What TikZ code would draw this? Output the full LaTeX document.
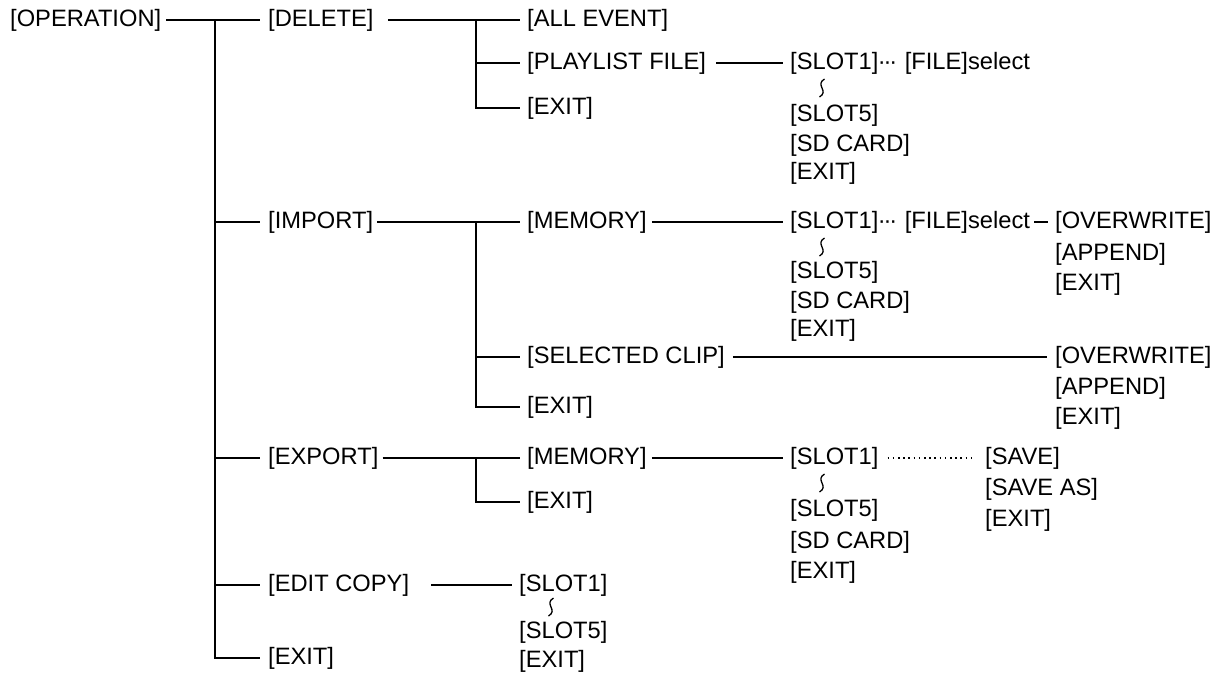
\documentclass[tikz,border=0pt]{standalone}
\usepackage{fontspec}
\setmainfont{Liberation Sans}
\newcommand{\slotdots}{\kern-0.5pt·\kern-2.2pt·\kern-2.2pt·\kern1pt\ }
\begin{document}
\begin{tikzpicture}[x=1pt,y=-1pt,
  lbl/.style={anchor=west, inner sep=0pt, font=\fontsize{23.7}{28}\selectfont},
  ln/.style={line width=2.4pt},
  dotln/.style={line width=1.8pt, dash pattern=on 1.6pt off 3.6pt},
  wav/.pic={\draw[line width=1.3pt] (2.5,-9) .. controls (-7.5,-3) and (7.5,3) .. (-2.5,9);}]
\useasboundingbox (0,0) rectangle (1222,673);

% level 0 / 1
\node[lbl] (op)  at (10,20)  {[OPERATION]};
\node[lbl] (del) at (268,20) {[DELETE]};
\node[lbl] (imp) at (268,222) {[IMPORT]};
\node[lbl] (exp) at (268,458) {[EXPORT]};
\node[lbl] (edc) at (268,585) {[EDIT COPY]};
\node[lbl] (ex0) at (268,658) {[EXIT]};
\coordinate (t0) at (215,20);

\draw[ln] ([xshift=5pt]op.east) -- ([xshift=-8pt]del.west);
\draw[ln] (t0) |- ([xshift=-8pt]ex0.west);
\draw[ln] (imp.west -| t0) -- ([xshift=-8pt]imp.west);
\draw[ln] (exp.west -| t0) -- ([xshift=-8pt]exp.west);
\draw[ln] (edc.west -| t0) -- ([xshift=-8pt]edc.west);

% DELETE subtree
\node[lbl] (ae)  at (527,20)  {[ALL EVENT]};
\node[lbl] (pl)  at (527,63)  {[PLAYLIST FILE]};
\node[lbl] (dex) at (527,108) {[EXIT]};
\coordinate (d0) at (476,20);
\draw[ln] ([xshift=14pt]del.east) -- ([xshift=-7pt]ae.west);
\draw[ln] (d0) |- ([xshift=-7pt]dex.west);
\draw[ln] (pl.west -| d0) -- ([xshift=-7pt]pl.west);

\node[lbl] (s1a) at (790,63)  {[SLOT1]\slotdots[FILE]select};
\node[lbl] (s5a) at (790,115) {[SLOT5]};
\node[lbl] (sda) at (790,145) {[SD CARD]};
\node[lbl] (exa) at (790,173) {[EXIT]};
\pic at (822,88) {wav};
\draw[ln] ([xshift=10pt]pl.east) -- ([xshift=-7pt]s1a.west);

% IMPORT subtree
\node[lbl] (mem1) at (527,222) {[MEMORY]};
\node[lbl] (sel)  at (527,357) {[SELECTED CLIP]};
\node[lbl] (iex)  at (527,407) {[EXIT]};
\coordinate (i0) at (476,222);
\draw[ln] ([xshift=4pt]imp.east) -- ([xshift=-7pt]mem1.west);
\draw[ln] (i0) |- ([xshift=-7pt]iex.west);
\draw[ln] (sel.west -| i0) -- ([xshift=-7pt]sel.west);

\node[lbl] (s1b) at (790,222) {[SLOT1]\slotdots[FILE]select};
\node[lbl] (s5b) at (790,272) {[SLOT5]};
\node[lbl] (sdb) at (790,302) {[SD CARD]};
\node[lbl] (exb) at (790,330) {[EXIT]};
\pic at (822,247) {wav};
\draw[ln] ([xshift=5pt]mem1.east) -- ([xshift=-7pt]s1b.west);

\node[lbl] (ow1) at (1055,222) {[OVERWRITE]};
\node[lbl] (ap1) at (1055,254) {[APPEND]};
\node[lbl] (ex1) at (1055,284) {[EXIT]};
\draw[ln] ([xshift=4pt]s1b.east) -- ([xshift=-7pt]ow1.west);

\node[lbl] (ow2) at (1055,357) {[OVERWRITE]};
\node[lbl] (ap2) at (1055,388) {[APPEND]};
\node[lbl] (ex2) at (1055,418) {[EXIT]};
\draw[ln] ([xshift=8pt]sel.east) -- ([xshift=-8pt]ow2.west);

% EXPORT subtree
\node[lbl] (mem2) at (527,458) {[MEMORY]};
\node[lbl] (eex)  at (527,502) {[EXIT]};
\coordinate (e0) at (476,458);
\draw[ln] ([xshift=4pt]exp.east) -- ([xshift=-7pt]mem2.west);
\draw[ln] (e0) |- ([xshift=-7pt]eex.west);

\node[lbl] (s1c) at (790,458) {[SLOT1]};
\node[lbl] (s5c) at (790,510) {[SLOT5]};
\node[lbl] (sdc) at (790,542) {[SD CARD]};
\node[lbl] (exc) at (790,572) {[EXIT]};
\pic at (822,483) {wav};
\draw[ln] ([xshift=5pt]mem2.east) -- ([xshift=-7pt]s1c.west);

\node[lbl] (sv)  at (985,458) {[SAVE]};
\node[lbl] (sva) at (985,489) {[SAVE AS]};
\node[lbl] (svx) at (985,520) {[EXIT]};
\draw[dotln] ([xshift=9pt]s1c.east) -- ([xshift=-10pt]sv.west);

% EDIT COPY subtree
\node[lbl] (s1d) at (519,585) {[SLOT1]};
\node[lbl] (s5d) at (519,632) {[SLOT5]};
\node[lbl] (exd) at (519,661) {[EXIT]};
\pic at (551,607) {wav};
\draw[ln] ([xshift=22pt]edc.east) -- ([xshift=-7pt]s1d.west);
\end{tikzpicture}
\end{document}
